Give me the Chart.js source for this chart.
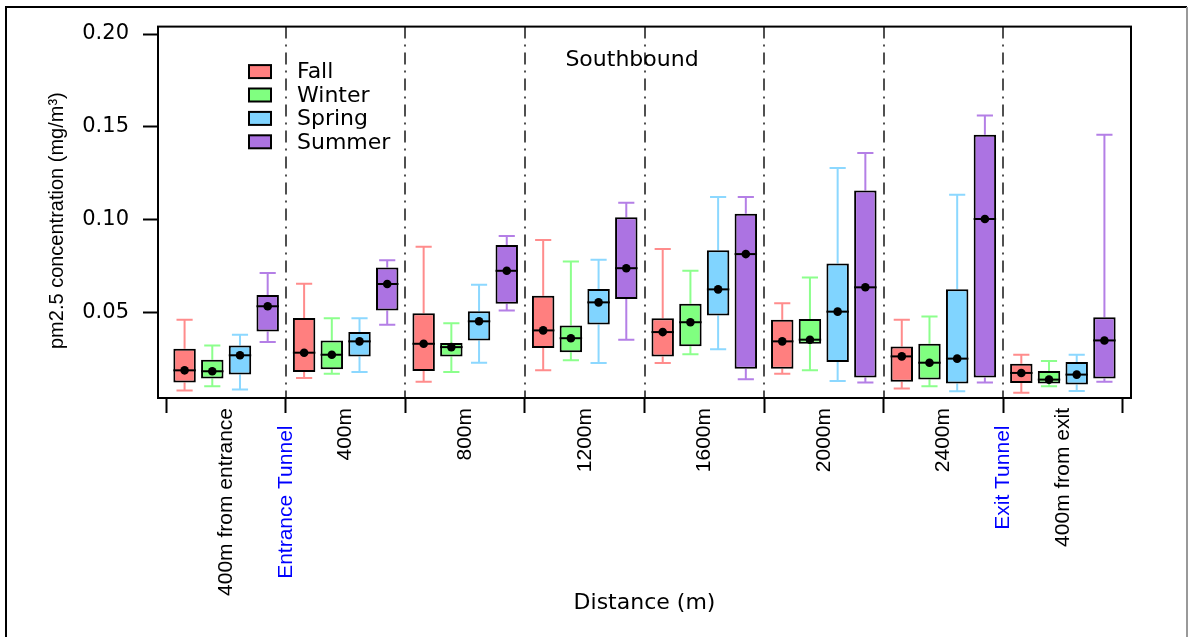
<!DOCTYPE html>
<html lang="en">
<head>
    <meta charset="UTF-8">
    <title>PM2.5 Southbound</title>
    <script src="https://cdn.jsdelivr.net/npm/chart.js"></script>
    <style>
        * {
            margin: 0;
            padding: 0;
            box-sizing: border-box;
        }

        body {
            background: #fff;
            width: 1189px;
            height: 637px;
            overflow: hidden;
        }

        .chart-container {
            position: relative;
            width: 1189px;
            height: 637px;
        }
    </style>
</head>
<body>
    <div class="chart-container">
        <canvas id="pmChart" width="1189" height="637"></canvas>
    </div>

    <script>
        // Locations along the tunnel (one box group each)
        const groups = ['400m from entrance', '400m', '800m', '1200m', '1600m', '2000m', '2400m', '400m from exit'];
        // Tunnel mouths sit on the boundaries between groups
        const tunnelMarks = { 1: 'Entrance Tunnel', 7: 'Exit Tunnel' };
        const seasons = ['Fall', 'Winter', 'Spring', 'Summer'];
        const yTicks = [0.05, 0.10, 0.15, 0.20];

        // [lower whisker, Q1, median, Q3, upper whisker] in mg/m3
        const fall = [
            [0.0080, 0.0123, 0.0189, 0.0305, 0.0462],
            [0.0148, 0.0180, 0.0284, 0.0471, 0.0655],
            [0.0127, 0.0185, 0.0332, 0.0496, 0.0855],
            [0.0189, 0.0309, 0.0404, 0.0591, 0.0891],
            [0.0228, 0.0264, 0.0395, 0.0470, 0.0843],
            [0.0171, 0.0198, 0.0345, 0.0462, 0.0550],
            [0.0091, 0.0127, 0.0264, 0.0318, 0.0462],
            [0.0068, 0.0121, 0.0175, 0.0225, 0.0273]
        ];
        const winter = [
            [0.0103, 0.0145, 0.0184, 0.0246, 0.0323],
            [0.0171, 0.0195, 0.0273, 0.0350, 0.0470],
            [0.0180, 0.0264, 0.0314, 0.0336, 0.0443],
            [0.0243, 0.0287, 0.0362, 0.0430, 0.0775],
            [0.0275, 0.0319, 0.0448, 0.0547, 0.0725],
            [0.0189, 0.0332, 0.0354, 0.0466, 0.0689],
            [0.0103, 0.0139, 0.0230, 0.0332, 0.0479],
            [0.0103, 0.0118, 0.0139, 0.0185, 0.0239]
        ];
        const spring = [
            [0.0086, 0.0166, 0.0270, 0.0323, 0.0380],
            [0.0180, 0.0264, 0.0345, 0.0395, 0.0470],
            [0.0230, 0.0350, 0.0453, 0.0507, 0.0650],
            [0.0228, 0.0436, 0.0555, 0.0627, 0.0784],
            [0.0302, 0.0484, 0.0625, 0.0836, 0.1122],
            [0.0132, 0.0234, 0.0505, 0.0764, 0.1279],
            [0.0077, 0.0118, 0.0252, 0.0625, 0.1134],
            [0.0078, 0.0113, 0.0166, 0.0234, 0.0273]
        ];
        const summer = [
            [0.0341, 0.0398, 0.0534, 0.0595, 0.0713],
            [0.0434, 0.0511, 0.0654, 0.0743, 0.0782],
            [0.0511, 0.0547, 0.0725, 0.0864, 0.0913],
            [0.0354, 0.0573, 0.0739, 0.1014, 0.1091],
            [0.0141, 0.0198, 0.0815, 0.1032, 0.1122],
            [0.0123, 0.0150, 0.0636, 0.1157, 0.1359],
            [0.0123, 0.0150, 0.1004, 0.1458, 0.1561],
            [0.0127, 0.0145, 0.0350, 0.0475, 0.1458]
        ];

        const boxColors = ['#FF7F7F', '#80FF80', '#80D4FF', '#AC73E2'];
        const whiskerColors = ['#FF8C8C', '#8CFF8C', '#8CD8FF', '#B47FE6'];
        const seasonStats = [fall, winter, spring, summer];

        const wideFont = "'DejaVu Sans', Verdana, sans-serif";
        const narrowFont = "'Liberation Sans', Arial, sans-serif";

        const tickValue = ctx => (ctx && ctx.tick ? ctx.tick.value : NaN);

        // Whiskers, medians, separators, frame and legend
        const boxPlotParts = {
            id: 'boxPlotParts',
            beforeDatasetsDraw(chart) {
                const { ctx, chartArea, scales: { x, y } } = chart;
                ctx.save();

                // dash-dot separators between groups
                ctx.strokeStyle = '#505050';
                ctx.lineWidth = 2;
                ctx.setLineDash([12, 6, 2, 6]);
                for (let i = 1; i < groups.length; i++) {
                    const px = Math.round(x.getPixelForValue(i));
                    ctx.beginPath();
                    ctx.moveTo(px, chartArea.top);
                    ctx.lineTo(px, chartArea.bottom);
                    ctx.stroke();
                }
                ctx.setLineDash([]);

                // whiskers with caps
                chart.data.datasets.forEach((ds, di) => {
                    const stats = seasonStats[di];
                    ctx.strokeStyle = whiskerColors[di];
                    ctx.lineWidth = 2;
                    chart.getDatasetMeta(di).data.forEach((bar, i) => {
                        const cx = bar.x;
                        const capHalf = bar.width * 0.36;
                        const [lo, q1, , q3, hi] = stats[i];
                        ctx.beginPath();
                        ctx.moveTo(cx, y.getPixelForValue(hi));
                        ctx.lineTo(cx, y.getPixelForValue(q3));
                        ctx.moveTo(cx, y.getPixelForValue(q1));
                        ctx.lineTo(cx, y.getPixelForValue(lo));
                        ctx.moveTo(cx - capHalf, y.getPixelForValue(hi));
                        ctx.lineTo(cx + capHalf, y.getPixelForValue(hi));
                        ctx.moveTo(cx - capHalf, y.getPixelForValue(lo));
                        ctx.lineTo(cx + capHalf, y.getPixelForValue(lo));
                        ctx.stroke();
                    });
                });
                ctx.restore();
            },
            afterDatasetsDraw(chart) {
                const { ctx, chartArea, scales: { y } } = chart;
                ctx.save();

                // median line and dot
                chart.data.datasets.forEach((ds, di) => {
                    const stats = seasonStats[di];
                    chart.getDatasetMeta(di).data.forEach((bar, i) => {
                        const my = y.getPixelForValue(stats[i][2]);
                        ctx.strokeStyle = '#000';
                        ctx.lineWidth = 2;
                        ctx.beginPath();
                        ctx.moveTo(bar.x - bar.width / 2, my);
                        ctx.lineTo(bar.x + bar.width / 2, my);
                        ctx.stroke();
                        ctx.fillStyle = '#000';
                        ctx.beginPath();
                        ctx.arc(bar.x, my, 4.3, 0, Math.PI * 2);
                        ctx.fill();
                    });
                });

                // plot frame
                ctx.strokeStyle = '#000';
                ctx.lineWidth = 2;
                ctx.strokeRect(chartArea.left, chartArea.top, chartArea.width, chartArea.height);

                // legend
                ctx.font = '22px ' + wideFont;
                ctx.textBaseline = 'middle';
                ctx.textAlign = 'left';
                chart.data.datasets.forEach((ds, di) => {
                    const ky = chartArea.top + 45 + di * 23.4;
                    ctx.fillStyle = ds.backgroundColor;
                    ctx.fillRect(chartArea.left + 91, ky - 6.5, 22, 13);
                    ctx.strokeStyle = '#000';
                    ctx.lineWidth = 2;
                    ctx.strokeRect(chartArea.left + 91, ky - 6.5, 22, 13);
                    ctx.fillStyle = '#000';
                    ctx.fillText(ds.label, chartArea.left + 139, ky + 1);
                });

                // panel title
                ctx.font = '22px ' + wideFont;
                ctx.textAlign = 'center';
                ctx.fillText('Southbound', chartArea.left + 474, chartArea.top + 34);
                ctx.restore();
            },
            afterDraw(chart) {
                // outer figure border
                const { ctx, width, height } = chart;
                ctx.save();
                ctx.lineWidth = 2;
                ctx.strokeStyle = '#000';
                ctx.beginPath();
                ctx.moveTo(6, height);
                ctx.lineTo(6, 7);
                ctx.lineTo(width - 2, 7);
                ctx.stroke();
                ctx.strokeStyle = '#999';
                ctx.beginPath();
                ctx.moveTo(width - 2, 7);
                ctx.lineTo(width - 2, height);
                ctx.stroke();
                ctx.restore();
            }
        };

        new Chart(document.getElementById('pmChart'), {
            type: 'bar',
            data: {
                datasets: seasons.map((name, di) => ({
                    label: name,
                    data: seasonStats[di].map((s, i) => ({ x: i + 0.5, y: [s[1], s[3]] })),
                    backgroundColor: boxColors[di],
                    borderColor: '#000',
                    borderWidth: 2,
                    borderSkipped: false,
                    // ticks sit every half group, so the ruler's step is half a group
                    barPercentage: 0.81,
                    categoryPercentage: 1.854
                }))
            },
            options: {
                responsive: false,
                animation: false,
                devicePixelRatio: 1,
                layout: { padding: { top: 25, right: 58, left: 0, bottom: 0 } },
                plugins: {
                    legend: { display: false },
                    tooltip: { enabled: false }
                },
                scales: {
                    x: {
                        type: 'linear',
                        offset: false,
                        min: -0.07,
                        max: groups.length + 0.07,
                        afterBuildTicks: scale => {
                            const ticks = [];
                            for (let i = 0; i <= groups.length * 2; i++) ticks.push({ value: i / 2 });
                            scale.ticks = ticks;
                        },
                        afterFit: scale => { scale.height = 239; },
                        grid: {
                            offset: false,
                            drawOnChartArea: false,
                            tickLength: 15,
                            tickWidth: 2,
                            tickColor: ctx => Number.isInteger(tickValue(ctx)) ? '#000' : 'rgba(0,0,0,0)'
                        },
                        border: { display: false },
                        ticks: {
                            autoSkip: false,
                            minRotation: 90,
                            maxRotation: 90,
                            padding: -5,
                            font: { family: narrowFont, size: 21 },
                            color: ctx => tunnelMarks[tickValue(ctx)] ? '#0000FF' : '#000',
                            callback: value => {
                                if (tunnelMarks[value]) return tunnelMarks[value] + '\u00a0\u00a0\u00a0';
                                if (!Number.isInteger(value)) return groups[Math.floor(value)];
                                return '';
                            }
                        },
                        title: {
                            display: true,
                            text: 'Distance (m)',
                            color: '#000',
                            font: { family: wideFont, size: 22 },
                            padding: { top: 4, bottom: 21 }
                        }
                    },
                    y: {
                        min: 0.004,
                        max: 0.204,
                        afterBuildTicks: scale => { scale.ticks = yTicks.map(v => ({ value: v })); },
                        afterFit: scale => { scale.width = 158; },
                        grid: {
                            drawOnChartArea: false,
                            tickLength: 15,
                            tickWidth: 2,
                            tickColor: '#000'
                        },
                        border: { display: false },
                        ticks: {
                            padding: 14,
                            color: '#000',
                            font: { family: wideFont, size: 21 },
                            callback: value => value.toFixed(2)
                        },
                        title: {
                            display: true,
                            text: 'pm2.5 concentration (mg/m³)\u00a0\u00a0\u00a0',
                            color: '#000',
                            font: { family: narrowFont, size: 20 },
                            padding: { top: 45, bottom: 0 }
                        }
                    }
                }
            },
            plugins: [boxPlotParts]
        });
    </script>
</body>
</html>
